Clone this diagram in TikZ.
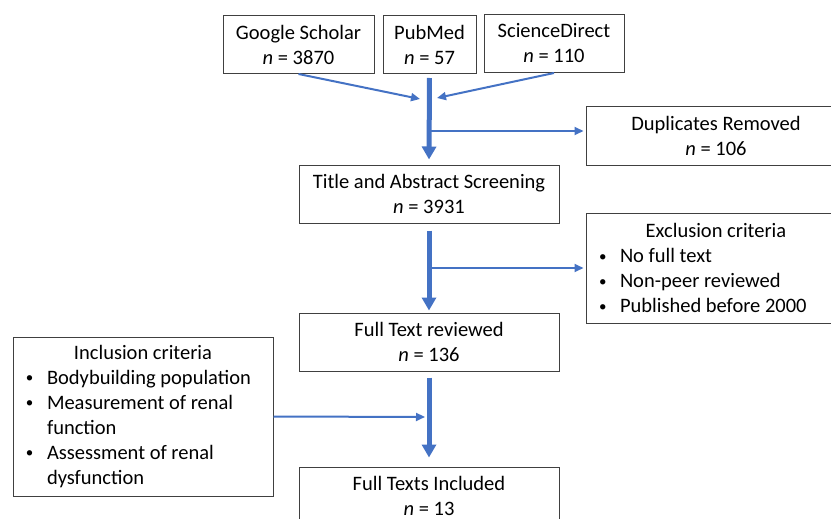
\documentclass[tikz,border=0pt]{standalone}
\usepackage{fontspec}
\setmainfont{Carlito}
\usetikzlibrary{arrows.meta}
\definecolor{arrowblue}{HTML}{4472C4}
\newcommand{\crit}[1]{\noindent\hangindent=22pt\hangafter=1\makebox[22pt][l]{\hspace{1pt}\raisebox{1.5pt}{\fontsize{15}{25}\selectfont\textbullet}}#1\par}

\begin{document}
\begin{tikzpicture}[x=1pt, y=-1pt,
    every node/.style={font=\fontsize{20.5}{25}\selectfont},
    box/.style={draw=black!75, line width=1pt, rectangle, minimum height=58pt, inner sep=0pt, align=center},
    list/.style={box, minimum width=260pt, text width=236pt, align=flush left},
    thickarr/.style={arrowblue, line width=5pt, -{Triangle[width=14pt,length=13pt]}},
    thinarr/.style={arrowblue, line width=2pt, -{Triangle[width=8pt,length=9pt]}}]
    \useasboundingbox (0,0) rectangle (831,519);
    \clip (0,0) rectangle (831,519);

    % sources
    \node[box, minimum width=151pt] (google) at (298.5, 44.5) {Google Scholar\\\textit{n} = 3870};
    \node[box, minimum width=93pt] (pubmed) at (429.5, 44.5) {PubMed\\\textit{n} = 57};
    \node[box, minimum width=140pt] (scidir) at (554, 43.5) {ScienceDirect\\\textit{n} = 110};

    % main column
    \node[box, minimum width=260pt] (title) at (429, 194) {Title and Abstract Screening\\\textit{n} = 3931};
    \node[box, minimum width=260pt] (ftr) at (429, 342) {Full Text reviewed\\\textit{n} = 136};
    \node[box, minimum width=260pt] (fti) at (429, 496) {Full Texts Included\\\textit{n} = 13};

    % side boxes
    \node[box, minimum width=260pt] (dup) at (716, 136) {Duplicates Removed\\\textit{n} = 106};
    \node[list, minimum height=110pt] (excl) at (716, 268) {{\centering Exclusion criteria\par}%
        \crit{No full text}\crit{Non-peer reviewed}\crit{Published before 2000}};
    \node[list, minimum height=159pt] (incl) at (143, 416.5) {{\centering Inclusion criteria\par}%
        \crit{Bodybuilding population}\crit{Measurement of renal\newline function}\crit{Assessment of renal\newline dysfunction}};

    \coordinate (j1) at (420, 99);
    \coordinate (j2) at (437, 98);
    \coordinate (b1) at (429, 131);
    \coordinate (b2) at (429, 268);
    \coordinate (b3) at (425, 417);

    \draw[thinarr] (google.south) -- (j1);
    \draw[thinarr] (scidir.south) -- (j2);
    \draw[thickarr, shorten <=4pt, shorten >=5pt] (pubmed.south) -- (title.north);
    \draw[thinarr, shorten >=2pt] (b1) -- (b1 -| dup.west);

    \draw[thickarr, shorten <=7pt, shorten >=2pt] (title.south) -- (ftr.north);
    \draw[thinarr, shorten >=2pt] (b2) -- (excl.west);

    \draw[thickarr, shorten <=6pt, shorten >=9pt] (ftr.south) -- (fti.north);
    \draw[thinarr] (incl.east) -- (b3);
\end{tikzpicture}
\end{document}
